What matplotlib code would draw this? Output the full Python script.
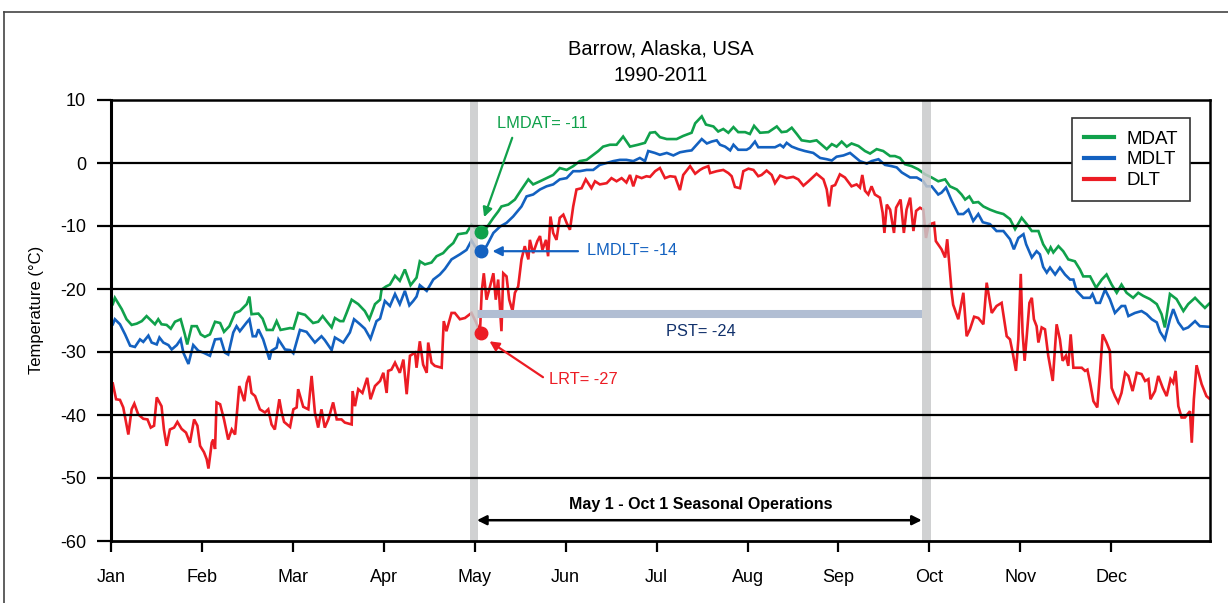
import matplotlib
matplotlib.use('Agg')
import matplotlib.pyplot as plt
from matplotlib.lines import Line2D
import numpy as np

plt.rcParams['font.family'] = ['Liberation Sans', 'DejaVu Sans']
plt.rcParams['axes.unicode_minus'] = False

# ---- data (day of year, deg C) ----
months = ['Jan', 'Feb', 'Mar', 'Apr', 'May', 'Jun', 'Jul', 'Aug', 'Sep', 'Oct', 'Nov', 'Dec']
yticks = [10, 0, -10, -20, -30, -40, -50, -60]

mdat = [(0.6, -22.4), (1.3, -21.4), (3.6, -23.2), (5.2, -24.8), (6.9, -25.7), (8.6, -25.5), (10.3, -25.1),
        (11.9, -24.3), (13.6, -25.1), (14.7, -25.6), (15.8, -24.8), (16.9, -25.6), (18.6, -25.7), (20.0, -26.3),
        (21.4, -25.2), (23.3, -24.8), (24.7, -27.2), (25.5, -28.8), (27.0, -25.9), (28.7, -25.9), (30.0, -27.2),
        (31.4, -27.6), (33.1, -27.2), (34.8, -25.2), (36.5, -25.4), (37.8, -26.8), (39.6, -25.9), (41.5, -23.8),
        (43.1, -23.5), (45.4, -22.4), (46.3, -21.2), (47.0, -24.0), (49.3, -23.9), (50.7, -24.7), (52.1, -26.5),
        (54.1, -26.5), (55.4, -25.1), (56.7, -26.5), (59.9, -26.2), (61.0, -26.3), (62.6, -23.8), (64.9, -24.1),
        (67.6, -25.4), (69.3, -25.2), (70.8, -24.3), (72.1, -25.1), (73.8, -26.1), (74.9, -24.6), (76.6, -25.1),
        (77.7, -25.1), (78.8, -23.8), (80.5, -21.7), (82.7, -22.4), (84.9, -23.5), (86.4, -24.8), (88.3, -22.4),
        (90.0, -21.7), (90.5, -20.1), (92.0, -19.6), (93.3, -19.3), (95.0, -17.9), (96.6, -18.7), (98.3, -16.9),
        (100.2, -19.4), (102.2, -18.2), (103.3, -15.6), (105.0, -16.1), (107.2, -15.8), (108.9, -14.8),
        (111.1, -14.3), (112.8, -13.4), (114.5, -12.7), (116.1, -11.3), (118.9, -11.1), (120.6, -9.8),
        (121.7, -10.3), (123.4, -11.1), (125.6, -10.3), (127.9, -8.7), (129.5, -7.7), (130.6, -6.9), (132.9, -6.6),
        (135.1, -5.8), (137.3, -4.2), (139.6, -2.6), (141.2, -3.4), (143.5, -2.9), (145.7, -2.4), (147.9, -1.9),
        (150.1, -0.8), (152.4, -1.1), (154.6, -0.5), (156.8, 0.3), (159.1, 0.5), (161.3, 1.3), (163.0, 1.9),
        (164.6, 2.6), (166.9, 2.9), (169.1, 2.9), (171.3, 4.2), (173.6, 2.6), (176.3, 2.9), (178.6, 3.2),
        (180.3, 4.8), (182.0, 4.9), (183.6, 4.1), (185.9, 3.8), (189.2, 3.8), (191.4, 4.3), (194.2, 4.8),
        (195.4, 6.3), (197.6, 7.4), (199.0, 6.1), (201.5, 5.8), (203.1, 5.0), (204.8, 5.4), (206.5, 4.8),
        (208.2, 5.7), (209.8, 4.9), (212.1, 4.9), (213.7, 4.6), (215.1, 5.9), (217.1, 4.8), (219.9, 4.9),
        (222.7, 5.8), (224.3, 4.9), (226.0, 5.0), (227.7, 5.6), (229.4, 4.6), (231.0, 3.6), (233.8, 3.4),
        (236.0, 3.6), (237.7, 2.9), (239.4, 2.2), (241.1, 3.0), (242.7, 2.6), (244.4, 3.4), (246.1, 2.6),
        (247.7, 3.1), (250.0, 2.7), (252.2, 1.9), (253.9, 1.5), (256.1, 2.2), (258.3, 1.9), (260.6, 1.1),
        (262.2, 1.1), (263.9, 0.8), (265.6, -0.2), (267.8, -0.5), (270.0, -1.0), (272.3, -1.8), (274.5, -2.3),
        (276.7, -2.9), (279.0, -2.6), (280.6, -3.7), (282.9, -4.2), (284.5, -5.0), (285.7, -5.8), (287.1, -5.3),
        (288.4, -6.3), (290.1, -6.2), (291.8, -6.9), (294.0, -7.4), (296.2, -7.8), (298.5, -8.1), (300.7, -8.9),
        (302.4, -10.5), (304.6, -8.7), (306.3, -9.7), (308.0, -10.8), (310.2, -10.8), (311.8, -12.9),
        (313.5, -14.2), (314.3, -13.4), (315.2, -14.2), (316.9, -13.2), (318.5, -14.0), (320.2, -15.3),
        (322.4, -15.6), (324.1, -16.9), (325.2, -18.0), (327.5, -18.0), (329.5, -19.8), (331.4, -18.5),
        (333.0, -17.7), (334.7, -19.3), (336.4, -20.6), (338.0, -19.3), (339.7, -20.6), (341.9, -21.4),
        (343.6, -20.6), (345.3, -21.1), (347.5, -21.6), (349.8, -22.4), (351.4, -24.0), (352.5, -26.1),
        (354.2, -20.8), (356.4, -21.6), (358.7, -23.5), (360.3, -22.4), (362.6, -21.4), (364.2, -22.2),
        (365.9, -23.0), (367.4, -22.3)]

mdlt = [(0.6, -25.6), (1.3, -24.8), (3.0, -25.6), (4.7, -27.2), (6.4, -29.0), (8.0, -29.2), (9.7, -28.0),
        (10.8, -28.4), (12.5, -27.4), (13.6, -28.5), (15.3, -28.8), (16.2, -27.7), (17.5, -28.5), (19.2, -28.9),
        (20.3, -29.6), (22.0, -28.9), (23.3, -28.0), (24.2, -30.1), (25.9, -31.9), (27.5, -28.9), (29.2, -29.8),
        (30.9, -30.1), (33.1, -30.6), (34.8, -28.0), (36.7, -27.9), (38.1, -30.1), (39.2, -30.4), (40.9, -26.9),
        (42.0, -25.9), (43.1, -26.7), (45.4, -25.3), (46.3, -24.8), (47.4, -27.5), (48.5, -27.5), (49.3, -26.4),
        (50.9, -28.0), (52.1, -29.8), (53.0, -31.2), (53.7, -29.8), (55.4, -29.3), (56.0, -28.0), (58.2, -29.6),
        (59.9, -29.7), (61.0, -30.2), (63.2, -26.5), (65.4, -26.8), (68.2, -28.5), (70.4, -27.5), (71.5, -28.1),
        (73.8, -29.7), (74.9, -27.7), (77.7, -28.5), (79.9, -26.9), (81.3, -24.8), (83.3, -25.6), (84.9, -26.3),
        (86.8, -27.9), (88.8, -25.1), (90.0, -24.7), (91.6, -21.9), (93.3, -22.7), (95.0, -20.8), (96.6, -22.4),
        (98.3, -20.3), (99.8, -22.6), (101.1, -21.9), (102.2, -21.2), (103.3, -19.4), (105.6, -20.3),
        (107.8, -18.5), (110.0, -17.7), (111.7, -16.8), (113.9, -15.3), (116.7, -14.5), (118.9, -13.8),
        (120.6, -12.3), (121.7, -13.2), (123.4, -13.9), (125.6, -13.2), (127.9, -11.1), (130.1, -10.1),
        (132.3, -9.5), (134.5, -8.5), (137.3, -6.9), (139.0, -5.3), (141.2, -5.0), (143.5, -4.2), (145.7, -3.7),
        (147.9, -3.4), (150.1, -2.6), (152.4, -2.4), (154.6, -1.3), (156.8, -1.3), (159.1, -1.1), (161.3, -1.1),
        (163.5, -0.3), (165.8, 0.0), (168.0, 0.3), (170.2, 0.5), (172.4, 0.5), (174.7, 0.3), (176.9, 0.8),
        (178.6, 0.3), (179.7, 1.9), (181.9, 1.6), (183.6, 1.3), (185.9, 1.6), (188.1, 1.2), (190.3, 1.7),
        (192.6, 1.9), (194.2, 2.0), (195.9, 2.9), (197.6, 3.8), (199.3, 3.1), (200.9, 3.4), (202.6, 3.6),
        (203.7, 2.9), (205.4, 2.6), (207.1, 2.0), (208.2, 2.9), (209.8, 2.1), (212.6, 2.1), (213.7, 2.4),
        (215.4, 3.4), (216.5, 2.5), (219.3, 2.5), (222.1, 2.5), (223.8, 2.9), (224.9, 2.5), (226.0, 3.2),
        (227.7, 2.6), (229.9, 2.2), (232.1, 1.9), (234.9, 1.6), (237.2, 0.8), (239.4, 0.6), (241.1, 0.4),
        (242.7, 1.0), (245.0, 1.2), (247.2, 1.6), (250.5, 0.3), (252.8, -0.1), (254.4, 0.3), (256.7, 0.6),
        (258.9, -0.3), (261.1, -0.5), (262.8, -0.7), (264.5, -1.5), (267.3, -2.3), (269.5, -2.3), (271.7, -2.9),
        (272.8, -3.7), (274.5, -3.7), (276.7, -5.0), (277.8, -4.7), (279.3, -3.9), (281.2, -6.0), (283.4, -8.1),
        (285.1, -8.1), (286.8, -7.4), (288.4, -9.2), (290.1, -8.1), (291.6, -9.4), (294.0, -9.7), (296.2, -10.8),
        (298.5, -10.8), (300.7, -12.1), (302.0, -13.7), (303.5, -11.9), (305.2, -11.3), (306.1, -12.9),
        (308.0, -15.0), (309.6, -14.0), (310.7, -14.5), (311.8, -16.5), (313.0, -17.4), (314.1, -16.6),
        (315.8, -17.7), (317.4, -16.6), (319.1, -17.7), (320.8, -18.5), (321.9, -18.5), (323.0, -20.3),
        (325.2, -21.4), (327.5, -21.4), (328.3, -20.8), (329.5, -22.2), (330.8, -22.2), (332.5, -20.1),
        (334.1, -21.6), (335.8, -23.8), (338.0, -22.7), (339.2, -22.7), (340.3, -24.3), (342.5, -23.8),
        (344.7, -23.5), (346.4, -24.0), (348.1, -24.8), (349.8, -25.3), (350.9, -26.8), (352.5, -28.0),
        (354.2, -24.8), (355.3, -23.2), (357.0, -25.3), (358.7, -26.4), (360.3, -26.1), (362.6, -25.1),
        (364.2, -25.9), (367.4, -26.0)]

dlt = [(0.6, -35.0), (1.7, -37.5), (3.0, -37.6), (4.1, -38.8), (5.8, -43.1), (6.9, -39.1), (7.8, -38.2),
       (9.1, -39.9), (10.8, -40.6), (12.2, -40.7), (13.3, -42.0), (14.4, -41.7), (15.3, -37.2), (16.9, -38.6),
       (17.7, -42.3), (18.6, -44.9), (19.7, -42.3), (21.1, -42.0), (22.2, -41.1), (23.6, -42.2), (25.1, -42.8),
       (26.4, -44.4), (27.8, -40.7), (28.9, -41.7), (29.8, -44.9), (31.1, -45.9), (32.0, -47.0), (32.6, -48.5),
       (33.7, -44.4), (34.2, -43.9), (34.8, -45.4), (35.3, -38.0), (36.5, -38.3), (37.8, -40.7), (39.2, -43.9),
       (40.4, -42.3), (41.5, -43.1), (42.9, -35.4), (43.7, -36.5), (44.6, -37.8), (45.4, -34.9), (46.2, -33.8),
       (47.0, -36.5), (48.2, -37.0), (49.8, -39.1), (51.5, -39.6), (52.6, -39.1), (53.7, -41.5), (54.8, -42.3),
       (56.3, -37.5), (57.1, -39.6), (57.9, -41.1), (59.9, -41.9), (61.0, -39.1), (62.1, -38.8), (62.6, -35.9),
       (64.3, -38.7), (66.0, -39.1), (67.1, -33.8), (68.2, -39.6), (69.3, -42.0), (70.4, -39.1), (71.5, -42.0),
       (72.7, -40.7), (74.3, -38.0), (75.5, -40.7), (77.1, -40.7), (78.2, -41.2), (80.5, -41.5), (80.8, -36.2),
       (81.6, -38.6), (82.7, -35.9), (84.1, -36.5), (85.7, -34.1), (86.8, -37.5), (88.3, -35.4), (90.0, -34.6),
       (91.1, -33.3), (92.2, -36.5), (92.7, -33.0), (93.8, -32.8), (95.0, -31.7), (96.6, -33.3), (97.8, -31.2),
       (98.9, -36.7), (100.0, -30.6), (101.7, -30.1), (102.2, -32.5), (103.3, -28.3), (104.4, -32.0),
       (105.6, -33.3), (106.1, -28.5), (107.2, -31.7), (108.3, -32.2), (110.6, -32.5), (111.3, -25.1),
       (112.2, -26.7), (113.9, -23.8), (115.0, -23.8), (116.7, -24.8), (118.4, -24.6), (120.6, -23.8),
       (122.3, -25.5), (123.4, -27.0), (124.0, -20.4), (124.7, -17.5), (125.6, -21.7), (126.5, -20.1),
       (127.9, -17.5), (128.7, -21.7), (129.5, -18.5), (130.6, -26.7), (131.2, -17.5), (132.3, -18.0),
       (133.2, -21.7), (134.3, -23.5), (135.1, -20.6), (136.2, -19.6), (137.3, -15.3), (138.4, -13.2),
       (139.6, -15.3), (140.1, -12.2), (141.2, -14.3), (142.6, -12.4), (143.5, -11.6), (144.3, -13.8),
       (145.5, -12.2), (146.2, -14.8), (147.0, -8.5), (147.9, -11.1), (149.0, -12.2), (150.1, -8.7),
       (151.3, -8.2), (152.4, -9.5), (153.5, -10.6), (154.6, -6.9), (155.7, -4.2), (157.4, -4.0), (158.8, -2.6),
       (159.6, -3.2), (160.7, -4.0), (161.9, -2.9), (163.5, -3.4), (165.8, -3.2), (167.4, -2.4), (169.1, -2.9),
       (170.8, -2.4), (172.4, -3.1), (173.6, -1.9), (174.7, -3.7), (175.8, -2.1), (177.5, -2.4), (179.1, -2.1),
       (180.3, -2.2), (182.0, -1.3), (183.6, -0.8), (185.3, -2.4), (187.0, -2.1), (188.7, -2.2), (190.3, -4.3),
       (191.4, -1.9), (193.7, -0.5), (195.4, -1.7), (197.0, -1.1), (198.1, -0.8), (199.8, -0.5), (200.4, -1.6),
       (202.6, -1.3), (204.8, -1.1), (206.5, -1.6), (207.6, -2.1), (208.7, -3.8), (210.4, -4.0), (211.5, -1.3),
       (213.2, -0.9), (214.9, -1.1), (216.5, -2.1), (217.6, -1.9), (219.3, -1.2), (221.0, -1.9), (222.1, -3.2),
       (223.8, -2.0), (226.0, -2.4), (228.2, -2.2), (229.9, -2.6), (231.6, -3.6), (233.3, -2.9), (236.0, -1.7),
       (238.3, -2.6), (239.4, -4.2), (240.2, -6.9), (241.1, -3.7), (242.2, -3.5), (243.8, -1.8), (245.5, -2.3),
       (247.7, -3.7), (249.4, -3.4), (250.5, -3.9), (251.3, -1.9), (252.2, -4.4), (253.3, -5.0), (254.4, -3.7),
       (255.5, -5.0), (257.2, -5.5), (258.1, -7.9), (258.7, -11.1), (259.5, -6.6), (260.6, -7.4),
       (261.9, -11.1), (262.6, -7.1), (264.1, -5.8), (265.2, -11.1), (266.1, -7.4), (267.3, -5.5),
       (268.4, -10.8), (269.3, -7.6), (270.6, -7.1), (271.7, -7.4), (272.6, -11.9), (273.4, -10.0),
       (273.9, -9.7), (275.3, -9.5), (275.9, -12.4), (277.8, -13.7), (279.0, -15.0), (279.7, -12.1),
       (281.2, -20.6), (281.7, -22.5), (283.4, -24.8), (285.1, -20.6), (286.2, -27.5), (287.3, -26.4),
       (288.7, -24.4), (290.1, -24.6), (291.8, -25.6), (292.9, -19.0), (294.6, -23.8), (296.2, -22.7),
       (297.9, -22.2), (299.6, -27.5), (300.7, -28.0), (301.6, -30.1), (302.7, -33.0), (303.5, -28.0),
       (304.3, -17.6), (304.9, -26.9), (305.6, -31.4), (306.3, -27.5), (307.2, -22.2), (308.0, -21.4),
       (308.7, -24.8), (309.6, -25.9), (310.2, -28.5), (311.3, -26.1), (312.4, -26.4), (313.5, -30.6),
       (315.0, -34.6), (316.3, -25.6), (317.4, -28.0), (318.3, -31.4), (319.4, -30.6), (320.2, -32.2),
       (321.0, -27.2), (321.9, -32.5), (323.0, -32.5), (324.7, -32.5), (325.8, -33.0), (326.6, -32.8),
       (327.5, -34.9), (328.6, -37.8), (329.9, -38.8), (330.8, -33.3), (331.7, -27.2), (333.0, -28.5),
       (334.1, -29.8), (334.7, -35.7), (335.8, -37.0), (336.9, -38.0), (338.0, -36.5), (339.2, -33.3),
       (340.3, -33.8), (341.7, -36.2), (343.1, -33.3), (344.7, -33.5), (345.9, -34.6), (347.0, -34.3),
       (347.7, -37.5), (349.2, -36.2), (350.3, -33.8), (351.8, -35.7), (353.1, -37.0), (354.4, -34.3),
       (355.3, -34.9), (356.1, -33.0), (357.0, -38.6), (358.1, -40.4), (359.2, -40.4), (360.9, -39.4),
       (361.5, -44.4), (362.2, -37.5), (363.1, -32.1), (364.8, -35.1), (366.4, -37.0), (367.4, -37.4)]

# marked points and thresholds
mark_day = 123.7
lmdat, lmdlt, lrt, pst = -11, -14, -27, -24
season_start, season_end = 121.5, 272.8

GREEN = '#10a14b'
BLUE = '#1361c0'
RED = '#ec1c24'
NAVY = '#10306b'

fig = plt.figure(figsize=(12.28, 6.03), dpi=100)
ax = fig.add_axes([111 / 1228, 1 - 541 / 603, 1099 / 1228, 441 / 603])

for data, color, label in [(mdat, GREEN, 'MDAT'), (mdlt, BLUE, 'MDLT'), (dlt, RED, 'DLT')]:
    d = np.array(data)
    ax.plot(d[:, 0], d[:, 1], color=color, lw=1.9, label=label, zorder=2, solid_joinstyle='miter')

# season boundaries (drawn over lines, semi-transparent)
for x in (season_start, season_end):
    ax.axvspan(x - 1.4, x + 1.4, color='#c8c9cb', alpha=0.85, lw=0, zorder=3)

# horizontal gridlines
for y in yticks[1:-1]:
    ax.axhline(y, color='black', lw=1.6, zorder=3.5)

# PST bar
ax.hlines(pst, 122.4, 271.2, color='#b1bed3', lw=5.8, zorder=2.5)

# marker dots
ax.plot(mark_day, lmdat, 'o', color=GREEN, ms=9, zorder=6)
ax.plot(mark_day, lmdlt, 'o', color=BLUE, ms=9, zorder=6)
ax.plot(mark_day, lrt, 'o', color=RED, ms=9, zorder=6)

akw = dict(arrowstyle='-|>', lw=1.6, mutation_scale=14, shrinkA=0, shrinkB=0)
ax.annotate('', xy=(124.8, -8.6), xytext=(134.2, 4.0), arrowprops=dict(color=GREEN, **akw), zorder=7)
ax.text(144.1, 6.2, 'LMDAT= -11', color=GREEN, fontsize=11.8, ha='center', va='center')
ax.annotate('', xy=(127.6, lmdlt), xytext=(156.2, lmdlt), arrowprops=dict(color=BLUE, **akw), zorder=7)
ax.text(174.2, -13.9, 'LMDLT= -14', color=BLUE, fontsize=11.8, ha='center', va='center')
ax.annotate('', xy=(126.6, -28.3), xytext=(144.5, -34.0), arrowprops=dict(color=RED, **akw), zorder=7)
ax.text(157.9, -34.4, 'LRT= -27', color=RED, fontsize=11.8, ha='center', va='center')
ax.text(197.3, -26.8, 'PST= -24', color=NAVY, fontsize=11.8, ha='center', va='center')

# seasonal operations span
ax.annotate('', xy=(122.4, -56.7), xytext=(271.2, -56.7),
            arrowprops=dict(arrowstyle='<|-|>', lw=1.8, color='black', mutation_scale=14,
                            shrinkA=0, shrinkB=0), zorder=7)
ax.text(197.3, -54.2, 'May 1 - Oct 1 Seasonal Operations', fontsize=11.5, fontweight='bold',
        ha='center', va='center')

ax.set_xlim(0, 367.6)
ax.set_ylim(-60, 10)
ax.set_xticks(np.arange(12) * 365 / 12)
ax.set_xticklabels(months)
ax.set_yticks(yticks)
ax.tick_params(axis='x', length=8, width=1.6, pad=12, labelsize=13)
ax.tick_params(axis='y', length=10, width=1.6, pad=8, labelsize=13)
for side, w in [('left', 2.2), ('right', 1.8), ('top', 1.8), ('bottom', 2.0)]:
    ax.spines[side].set_linewidth(w)
    ax.spines[side].set_zorder(8)

fig.text(37 / 1228, 1 - 310 / 603, 'Temperature (°C)', rotation=90, fontsize=12,
         ha='center', va='center')
ax.set_title('Barrow, Alaska, USA\n1990-2011', fontsize=14.5, pad=14, linespacing=1.45)

leg = ax.legend(loc='upper right', bbox_to_anchor=(0.9905, 0.98), fontsize=13.5, fancybox=False,
                framealpha=1, edgecolor='#333333', handlelength=1.6, handletextpad=0.65,
                borderpad=0.65, labelspacing=0.2)
leg.get_frame().set_linewidth(1.2)
leg.set_zorder(9)
for line in leg.get_lines():
    line.set_linewidth(3)

# outer frame of the original graphic
fig.add_artist(Line2D([4 / 1228, 4 / 1228], [0, 1 - 12 / 603], transform=fig.transFigure,
                      color='#444444', lw=1.2))
fig.add_artist(Line2D([4 / 1228, 1], [1 - 12 / 603, 1 - 12 / 603], transform=fig.transFigure,
                      color='#444444', lw=1.2))

fig.savefig('out.png', dpi=100)
